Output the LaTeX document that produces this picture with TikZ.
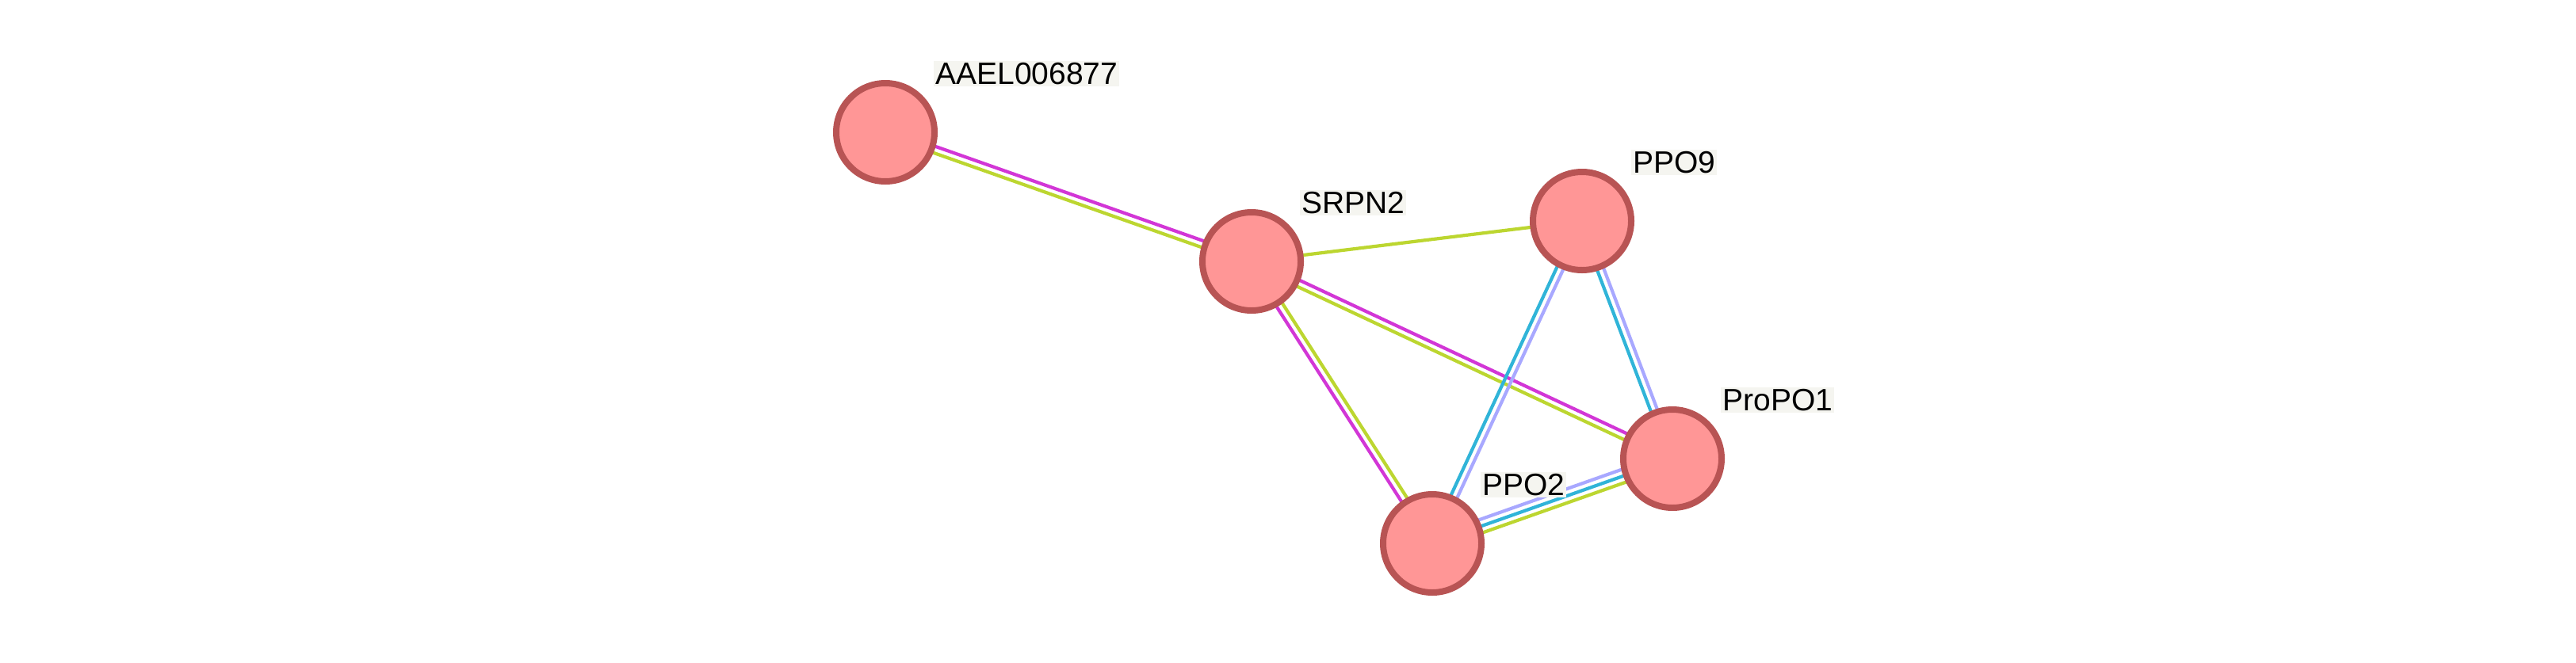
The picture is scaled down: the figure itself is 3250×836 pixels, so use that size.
\documentclass[tikz,border=0pt]{standalone}
\usepackage{fontspec}
\setmainfont{Liberation Sans}
\usetikzlibrary{calc}

\definecolor{nodefill}{HTML}{FF9696}
\definecolor{nodeborder}{HTML}{B85454}
\definecolor{experim}{HTML}{D236D6}
\definecolor{textmine}{HTML}{BCD630}
\definecolor{dbase}{HTML}{30B4D8}
\definecolor{coexpr}{HTML}{A8A8FF}
\definecolor{halo}{HTML}{F5F5F0}

\tikzstyle{protein} = [circle, draw=nodeborder, fill=nodefill, line width=4pt, minimum size=62pt, inner sep=0pt]
\tikzstyle{plabel} = [anchor=west, fill=halo, inner sep=1pt, font=\fontsize{19.5pt}{22pt}\selectfont]
\tikzstyle{link} = [line width=2.1pt]

% one coloured strand of an edge, shifted sideways by #2
\newcommand{\strline}[4]{\draw [link, #1] ($(#3)!#2!90:(#4)$) -- ($(#4)!#2!-90:(#3)$);}

\begin{document}
\begin{tikzpicture}[x=0.5pt, y=-0.5pt]
                \useasboundingbox (0,0) rectangle (3250,836);
                \coordinate (aael) at (1117,167);
                \coordinate (srpn) at (1579,330);
                \coordinate (ppo9) at (1996,279);
                \coordinate (propo) at (2110,579);
                \coordinate (ppo2) at (1807,686);

                % edges
                \strline{experim}{2.1pt}{aael}{srpn}
                \strline{textmine}{-2.1pt}{aael}{srpn}
                \strline{textmine}{0pt}{srpn}{ppo9}
                \strline{experim}{2.1pt}{srpn}{propo}
                \strline{textmine}{-2.1pt}{srpn}{propo}
                \strline{textmine}{2.1pt}{srpn}{ppo2}
                \strline{experim}{-2.1pt}{srpn}{ppo2}
                \strline{dbase}{-2.1pt}{ppo9}{ppo2}
                \strline{coexpr}{2.1pt}{ppo9}{ppo2}
                \strline{dbase}{-2.1pt}{ppo9}{propo}
                \strline{coexpr}{2.1pt}{ppo9}{propo}
                \strline{coexpr}{4.2pt}{ppo2}{propo}
                \strline{dbase}{0pt}{ppo2}{propo}
                \strline{textmine}{-4.2pt}{ppo2}{propo}

                % proteins
                \node (aaelnode) [protein] at (aael) {};
                \node (srpnnode) [protein] at (srpn) {};
                \node (ppo9node) [protein] at (ppo9) {};
                \node (proponode) [protein] at (propo) {};
                \node (ppo2node) [protein] at (ppo2) {};

                \node (aaellabel) [plabel] at ($(aael)+(61,-74)$) {AAEL006877};
                \node (srpnlabel) [plabel] at ($(srpn)+(61,-74)$) {SRPN2};
                \node (ppo9label) [plabel] at ($(ppo9)+(62,-74)$) {PPO9};
                \node (propolabel) [plabel] at ($(propo)+(61,-74)$) {ProPO1};
                \node (ppo2label) [plabel] at ($(ppo2)+(61,-74)$) {PPO2};
            \end{tikzpicture}
\end{document}
